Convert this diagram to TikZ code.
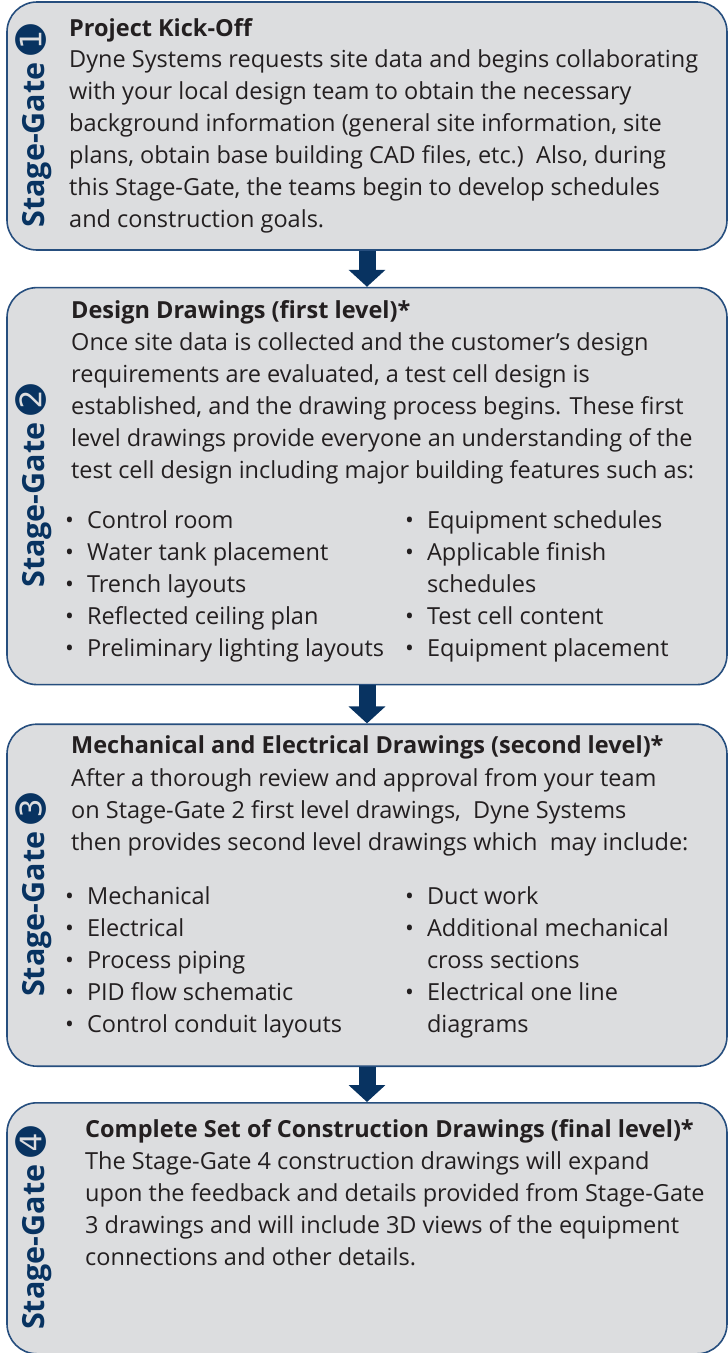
\documentclass[tikz,border=0pt]{standalone}
\usepackage{fontspec}
\setmainfont{Open Sans}
\newfontfamily\dingfont{DejaVu Sans}
\usetikzlibrary{arrows.meta, positioning}

\definecolor{gatefill}{RGB}{220,221,223}
\definecolor{gateline}{RGB}{38,78,126}
\definecolor{gatenavy}{RGB}{8,51,97}
\definecolor{bodytext}{RGB}{35,31,32}

\newcommand{\stagelabel}[1]{Stage-Gate\hspace{7pt}{\dingfont\mdseries\fontsize{37}{37}\selectfont #1}}

\begin{document}
\begin{tikzpicture}[
        x=1pt, y=1pt,
        % Box and text styles
        gate/.style={rectangle, draw=gateline, line width=1.6pt, fill=gatefill,
                     rounded corners=30pt, minimum width=720pt, inner sep=0pt},
        gatelabel/.style={rotate=90, text=gatenavy, inner sep=0pt,
                          font=\fontsize{30.5}{31}\selectfont\bfseries},
        heading/.style={anchor=base west, inner sep=0pt, text=bodytext,
                        font=\fontsize{23.5}{32}\selectfont\bfseries},
        body/.style={anchor=base west, inner sep=0pt, text=bodytext,
                     font=\fontsize{23.5}{32}\selectfont},
        arrow/.style={draw=gatenavy, line width=17pt, -{Triangle[width=36pt, length=17pt]}}
    ]
        \useasboundingbox (0,0) rectangle (728,-1353);

        % Stage-Gate boxes
        \node[gate, minimum height=248pt] (gate1) at (367,-126) {};
        \node[gate, minimum height=397pt, below=36pt of gate1] (gate2) {};
        \node[gate, minimum height=342pt, below=38pt of gate2] (gate3) {};
        \node[gate, minimum height=251pt, below=35pt of gate3] (gate4) {};

        % Rotated labels
        \node[gatelabel] (label1) at ([xshift=28pt]gate1.west) {\stagelabel{➊}};
        \node[gatelabel] (label2) at ([xshift=28pt]gate2.west) {\stagelabel{➋}};
        \node[gatelabel] (label3) at ([xshift=28pt]gate3.west) {\stagelabel{➌}};
        \node[gatelabel] (label4) at ([xshift=28pt]gate4.west) {\stagelabel{➍}};

        % Stage-Gate 1
        \node[heading] (title1) at (69,-36) {Project Kick-Off};
        \node[body] (text1) at (69,-67) {\begin{tabular}[t]{@{}l@{}}
            Dyne Systems requests site data and begins collaborating\\
            with your local design team to obtain the necessary\\
            background information (general site information, site\\
            plans, obtain base building CAD files, etc.)\ \ Also, during\\
            this Stage-Gate, the teams begin to develop schedules\\
            and construction goals.
        \end{tabular}};

        % Stage-Gate 2
        \node[heading] (title2) at (71,-318) {Design Drawings (first level)*};
        \node[body] (text2) at (71,-350) {\begin{tabular}[t]{@{}l@{}}
            Once site data is collected and the customer’s design\\
            requirements are evaluated, a test cell design is\\
            established, and the drawing process begins. These first\\
            level drawings provide everyone an understanding of the\\
            test cell design including major building features such as:
        \end{tabular}};
        \node[body] (list2a) at (65,-528) {\begin{tabular}[t]{@{}l@{\hspace{13pt}}l@{}}
            \textbullet & Control room\\
            \textbullet & Water tank placement\\
            \textbullet & Trench layouts\\
            \textbullet & Reflected ceiling plan\\
            \textbullet & Preliminary lighting layouts
        \end{tabular}};
        \node[body] (list2b) at (405,-528) {\begin{tabular}[t]{@{}l@{\hspace{13pt}}l@{}}
            \textbullet & Equipment schedules\\
            \textbullet & Applicable finish\\
                        & schedules\\
            \textbullet & Test cell content\\
            \textbullet & Equipment placement
        \end{tabular}};

        % Stage-Gate 3
        \node[heading] (title3) at (71,-753) {Mechanical and Electrical Drawings (second level)*};
        \node[body] (text3) at (71,-786) {\begin{tabular}[t]{@{}l@{}}
            After a thorough review and approval from your team\\
            on Stage-Gate 2 first level drawings,\ \ Dyne Systems\\
            then provides second level drawings which\ \ may include:
        \end{tabular}};
        \node[body] (list3a) at (65,-904) {\begin{tabular}[t]{@{}l@{\hspace{13pt}}l@{}}
            \textbullet & Mechanical\\
            \textbullet & Electrical\\
            \textbullet & Process piping\\
            \textbullet & PID flow schematic\\
            \textbullet & Control conduit layouts
        \end{tabular}};
        \node[body] (list3b) at (405,-904) {\begin{tabular}[t]{@{}l@{\hspace{13pt}}l@{}}
            \textbullet & Duct work\\
            \textbullet & Additional mechanical\\
                        & cross sections\\
            \textbullet & Electrical one line\\
                        & diagrams
        \end{tabular}};

        % Stage-Gate 4
        \node[heading] (title4) at (85,-1137) {Complete Set of Construction Drawings (final level)*};
        \node[body] (text4) at (85,-1169) {\begin{tabular}[t]{@{}l@{}}
            The Stage-Gate 4 construction drawings will expand\\
            upon the feedback and details provided from Stage-Gate\\
            3 drawings and will include 3D views of the equipment\\
            connections and other details.
        \end{tabular}};

        % Arrows between gates
        \draw[arrow] (gate1) -- (gate2);
        \draw[arrow] (gate2) -- (gate3);
        \draw[arrow] (gate3) -- (gate4);
    \end{tikzpicture}
\end{document}
